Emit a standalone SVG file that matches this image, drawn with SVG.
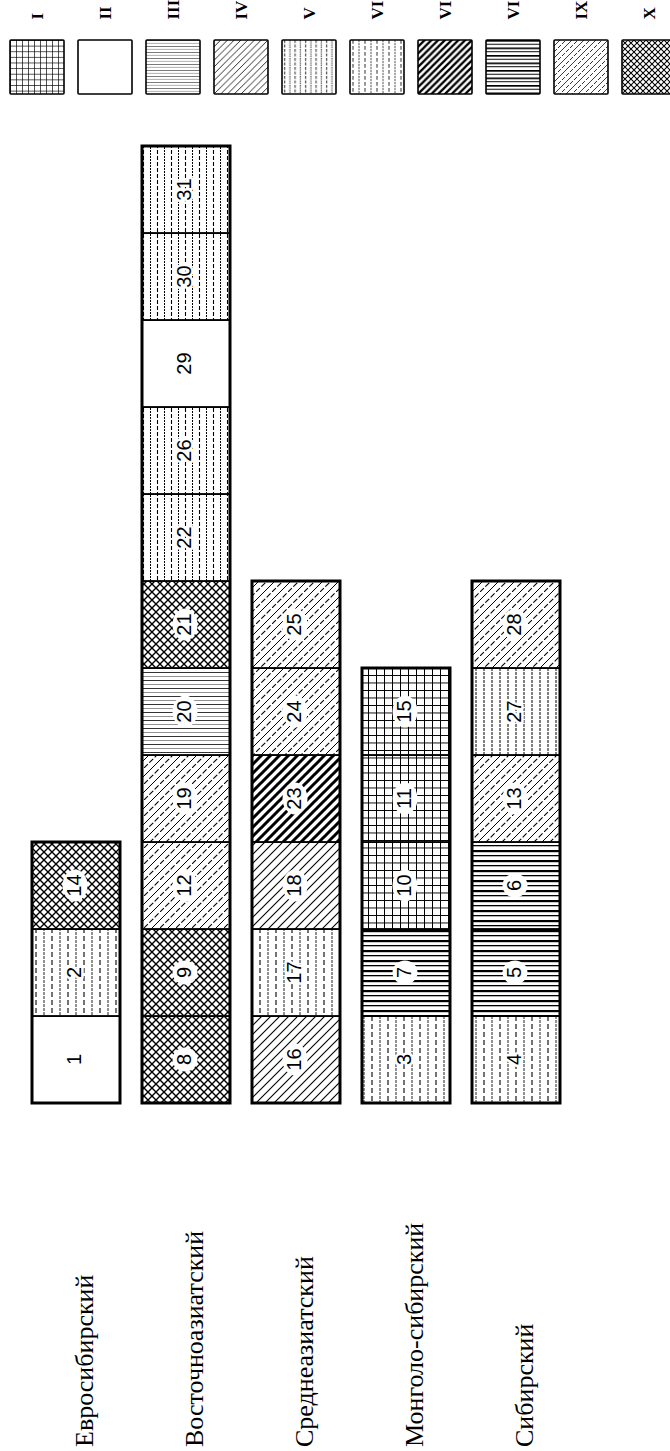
<svg xmlns="http://www.w3.org/2000/svg" width="670" height="1451" viewBox="0 0 670 1451">
<style>
.cell{stroke:#000;stroke-width:1.8}
.col{fill:none;stroke:#000;stroke-width:3}
.lg{stroke:#000;stroke-width:1.6;fill:none}
.num{font-family:"Liberation Sans",Arial,sans-serif;font-size:20px;text-anchor:middle;fill:#000}
.h{paint-order:stroke;stroke:#fff;stroke-width:5;stroke-linejoin:round}
.halo{fill:#fff}
.row{font-family:"Liberation Serif","Times New Roman",serif;font-size:26px;fill:#000}
.lt{font-family:"Liberation Serif","Times New Roman",serif;font-size:17px;font-weight:bold;fill:#000}
</style>
<defs>
<pattern id="pI" width="8" height="7.5" patternUnits="userSpaceOnUse"><rect width="8" height="7.5" fill="#fff"/><path d="M0.5 0V7.5M0 0.5H8" stroke="#000" stroke-width="1"/></pattern>
<pattern id="pIII" width="8" height="8" patternUnits="userSpaceOnUse"><rect width="8" height="8" fill="#fff"/><path d="M0 0.5H8" stroke="#000" stroke-width="0.8"/><path d="M0 4.5H8" stroke="#777" stroke-width="0.8"/></pattern>
<pattern id="pIV" width="9" height="9" patternUnits="userSpaceOnUse"><rect width="9" height="9" fill="#fff"/><path d="M0 9L9 0M-1 1L1 -1M8 10L10 8" stroke="#000" stroke-width="1.1"/></pattern>
<pattern id="pV" width="14" height="6" patternUnits="userSpaceOnUse"><rect width="14" height="6" fill="#fff"/><path d="M3.5 0V6" stroke="#000" stroke-width="1.1" stroke-dasharray="4 2"/><path d="M10.5 0V6" stroke="#000" stroke-width="1" stroke-dasharray="2 1"/></pattern>
<pattern id="pVI" width="16" height="8" patternUnits="userSpaceOnUse"><rect width="16" height="8" fill="#fff"/><path d="M4 0V8" stroke="#000" stroke-width="1.1" stroke-dasharray="5 3"/><path d="M12 0V8" stroke="#222" stroke-width="1" stroke-dasharray="3 1"/></pattern>
<pattern id="pW" width="8" height="8" patternUnits="userSpaceOnUse"><rect width="8" height="8" fill="#fff"/><path d="M4 0V8" stroke="#000" stroke-width="1" stroke-dasharray="3 1"/></pattern>
<pattern id="pVII" width="9" height="9" patternUnits="userSpaceOnUse"><rect width="9" height="9" fill="#fff"/><path d="M0 9L9 0M-2 2L2 -2M7 11L11 7" stroke="#000" stroke-width="3"/></pattern>
<pattern id="pVIII" width="10" height="10" patternUnits="userSpaceOnUse"><rect width="10" height="10" fill="#fff"/><rect y="0" width="10" height="2.2" fill="#000"/><rect y="5" width="10" height="1.3" fill="#000"/></pattern>
<pattern id="pIX" width="16" height="16" patternUnits="userSpaceOnUse"><rect width="16" height="16" fill="#fff"/><path d="M0 16L16 0" stroke="#000" stroke-width="1.1" stroke-dasharray="5.5 2.04"/><path d="M0 8L8 0M8 16L16 8M-1 1L1 -1M15 17L17 15" stroke="#000" stroke-width="1"/></pattern>
<pattern id="pX" width="8" height="8" patternUnits="userSpaceOnUse"><rect width="8" height="8" fill="#fff"/><path d="M0 0L8 8M8 0L0 8" stroke="#000" stroke-width="1.4"/></pattern>
</defs>
<rect width="670" height="1451" fill="#fff"/>

<g id="legend">
<g id="legend-I"><g transform="translate(10 40) scale(0.75)"><rect width="72" height="72" fill="url(#pI)"/></g><rect class="lg" x="10" y="40" width="54" height="54" rx="1"/><text class="lt" transform="translate(43 19.5) rotate(-90)">I</text></g>
<g id="legend-II"><rect class="lg" x="78" y="40" width="54" height="54" rx="1" fill="#fff"/><text class="lt" transform="translate(111 19.5) rotate(-90)">II</text></g>
<g id="legend-III"><g transform="translate(146 40) scale(0.75)"><rect width="72" height="72" fill="url(#pIII)"/></g><rect class="lg" x="146" y="40" width="54" height="54" rx="1"/><text class="lt" transform="translate(179 19.5) rotate(-90)">III</text></g>
<g id="legend-IV"><g transform="translate(214 40) scale(0.75)"><rect width="72" height="72" fill="url(#pIV)"/></g><rect class="lg" x="214" y="40" width="54" height="54" rx="1"/><text class="lt" transform="translate(247 19.5) rotate(-90)">IV</text></g>
<g id="legend-V"><g transform="translate(282 40) scale(0.75)"><rect width="72" height="72" fill="url(#pV)"/></g><rect class="lg" x="282" y="40" width="54" height="54" rx="1"/><text class="lt" transform="translate(315 19.5) rotate(-90)">V</text></g>
<g id="legend-VI"><g transform="translate(350 40) scale(0.75)"><rect width="72" height="72" fill="url(#pVI)"/></g><rect class="lg" x="350" y="40" width="54" height="54" rx="1"/><text class="lt" transform="translate(383 19.5) rotate(-90)">VI</text></g>
<g id="legend-VII"><g transform="translate(418 40) scale(0.75)"><rect width="72" height="72" fill="url(#pVII)"/></g><rect class="lg" x="418" y="40" width="54" height="54" rx="1"/><text class="lt" transform="translate(451 19.5) rotate(-90)">VII</text></g>
<g id="legend-VIII"><g transform="translate(486 40) scale(0.75)"><rect width="72" height="72" fill="url(#pVIII)"/></g><rect class="lg" x="486" y="40" width="54" height="54" rx="1"/><text class="lt" transform="translate(519 19.5) rotate(-90)">VIII</text></g>
<g id="legend-IX"><g transform="translate(554 40) scale(0.75)"><rect width="72" height="72" fill="url(#pIX)"/></g><rect class="lg" x="554" y="40" width="54" height="54" rx="1"/><text class="lt" transform="translate(587 19.5) rotate(-90)">IX</text></g>
<g id="legend-X"><g transform="translate(622 40) scale(0.75)"><rect width="72" height="72" fill="url(#pX)"/></g><rect class="lg" x="622" y="40" width="54" height="54" rx="1"/><text class="lt" transform="translate(655 19.5) rotate(-90)">X</text></g>
</g>

<g id="labels">
<text class="row" transform="translate(93 1447) rotate(-90)">Евросибирский</text>
<text class="row" transform="translate(203 1447) rotate(-90)">Восточноазиатский</text>
<text class="row" transform="translate(313 1447) rotate(-90)">Среднеазиатский</text>
<text class="row" transform="translate(423 1447) rotate(-90)">Монголо-сибирский</text>
<text class="row" transform="translate(533 1447) rotate(-90)">Сибирский</text>
</g>

<!-- Column 1: Евросибирский -->
<g id="c1"><rect class="cell" x="32" y="1016" width="88" height="87" fill="#fff"/><text class="num" transform="translate(74 1059.5) rotate(-90)" y="7">1</text></g>
<g id="c2"><rect class="cell" x="32" y="929" width="88" height="87" fill="url(#pVI)"/><text class="num h" transform="translate(74 972.5) rotate(-90)" y="7">2</text></g>
<g id="c14"><rect class="cell" x="32" y="842" width="88" height="87" fill="url(#pX)"/><ellipse class="halo" cx="75" cy="885.5" rx="12.5" ry="16"/><text class="num" transform="translate(74 885.5) rotate(-90)" y="7">14</text></g>

<!-- Column 2: Восточноазиатский -->
<g id="c8"><rect class="cell" x="142" y="1016" width="88" height="87" fill="url(#pX)"/><ellipse class="halo" cx="185" cy="1059.5" rx="12.5" ry="12"/><text class="num" transform="translate(184 1059.5) rotate(-90)" y="7">8</text></g>
<g id="c9"><rect class="cell" x="142" y="929" width="88" height="87" fill="url(#pX)"/><ellipse class="halo" cx="185" cy="972.5" rx="12.5" ry="12"/><text class="num" transform="translate(184 972.5) rotate(-90)" y="7">9</text></g>
<g id="c12"><rect class="cell" x="142" y="842" width="88" height="87" fill="url(#pIX)"/><ellipse class="halo" cx="185" cy="885.5" rx="12.5" ry="16"/><text class="num" transform="translate(184 885.5) rotate(-90)" y="7">12</text></g>
<g id="c19"><rect class="cell" x="142" y="755" width="88" height="87" fill="url(#pIX)"/><ellipse class="halo" cx="185" cy="798.5" rx="12.5" ry="16"/><text class="num" transform="translate(184 798.5) rotate(-90)" y="7">19</text></g>
<g id="c20"><rect class="cell" x="142" y="668" width="88" height="87" fill="url(#pIII)"/><ellipse class="halo" cx="185" cy="711.5" rx="12.5" ry="16"/><text class="num" transform="translate(184 711.5) rotate(-90)" y="7">20</text></g>
<g id="c21"><rect class="cell" x="142" y="581" width="88" height="87" fill="url(#pX)"/><ellipse class="halo" cx="185" cy="624.5" rx="12.5" ry="16"/><text class="num" transform="translate(184 624.5) rotate(-90)" y="7">21</text></g>
<g id="c22"><rect class="cell" x="142" y="494" width="88" height="87" fill="url(#pV)"/><text class="num h" transform="translate(184 537.5) rotate(-90)" y="7">22</text></g>
<g id="c26"><rect class="cell" x="142" y="407" width="88" height="87" fill="url(#pV)"/><text class="num h" transform="translate(184 450.5) rotate(-90)" y="7">26</text></g>
<g id="c29"><rect class="cell" x="142" y="320" width="88" height="87" fill="#fff"/><text class="num" transform="translate(184 363.5) rotate(-90)" y="7">29</text></g>
<g id="c30"><rect class="cell" x="142" y="233" width="88" height="87" fill="url(#pV)"/><text class="num h" transform="translate(184 276.5) rotate(-90)" y="7">30</text></g>
<g id="c31"><rect class="cell" x="142" y="146" width="88" height="87" fill="url(#pV)"/><text class="num h" transform="translate(184 189.5) rotate(-90)" y="7">31</text></g>

<!-- Column 3: Среднеазиатский -->
<g id="c16"><rect class="cell" x="252" y="1016" width="88" height="87" fill="url(#pIV)"/><ellipse class="halo" cx="295" cy="1059.5" rx="12.5" ry="16"/><text class="num" transform="translate(294 1059.5) rotate(-90)" y="7">16</text></g>
<g id="c17"><rect class="cell" x="252" y="929" width="88" height="87" fill="url(#pVI)"/><text class="num h" transform="translate(294 972.5) rotate(-90)" y="7">17</text></g>
<g id="c18"><rect class="cell" x="252" y="842" width="88" height="87" fill="url(#pIV)"/><ellipse class="halo" cx="295" cy="885.5" rx="12.5" ry="16"/><text class="num" transform="translate(294 885.5) rotate(-90)" y="7">18</text></g>
<g id="c23"><rect class="cell" x="252" y="755" width="88" height="87" fill="url(#pVII)"/><ellipse class="halo" cx="295" cy="798.5" rx="12.5" ry="16"/><text class="num" transform="translate(294 798.5) rotate(-90)" y="7">23</text></g>
<g id="c24"><rect class="cell" x="252" y="668" width="88" height="87" fill="url(#pIX)"/><ellipse class="halo" cx="295" cy="711.5" rx="12.5" ry="16"/><text class="num" transform="translate(294 711.5) rotate(-90)" y="7">24</text></g>
<g id="c25"><rect class="cell" x="252" y="581" width="88" height="87" fill="url(#pIX)"/><ellipse class="halo" cx="295" cy="624.5" rx="12.5" ry="16"/><text class="num" transform="translate(294 624.5) rotate(-90)" y="7">25</text></g>

<!-- Column 4: Монголо-сибирский -->
<g id="c3"><rect class="cell" x="362" y="1016" width="88" height="87" fill="url(#pVI)"/><text class="num h" transform="translate(404 1059.5) rotate(-90)" y="7">3</text></g>
<g id="c7"><rect class="cell" x="362" y="929" width="88" height="87" fill="url(#pVIII)"/><ellipse class="halo" cx="405" cy="972.5" rx="12.5" ry="12"/><text class="num" transform="translate(404 972.5) rotate(-90)" y="7">7</text></g>
<g id="c10"><rect class="cell" x="362" y="842" width="88" height="87" fill="url(#pI)"/><ellipse class="halo" cx="405" cy="885.5" rx="12.5" ry="16"/><text class="num" transform="translate(404 885.5) rotate(-90)" y="7">10</text></g>
<g id="c11"><rect class="cell" x="362" y="755" width="88" height="87" fill="url(#pI)"/><ellipse class="halo" cx="405" cy="798.5" rx="12.5" ry="16"/><text class="num" transform="translate(404 798.5) rotate(-90)" y="7">11</text></g>
<g id="c15"><rect class="cell" x="362" y="668" width="88" height="87" fill="url(#pI)"/><ellipse class="halo" cx="405" cy="711.5" rx="12.5" ry="16"/><text class="num" transform="translate(404 711.5) rotate(-90)" y="7">15</text></g>

<!-- Column 5: Сибирский -->
<g id="c4"><rect class="cell" x="472" y="1016" width="88" height="87" fill="url(#pVI)"/><text class="num h" transform="translate(514 1059.5) rotate(-90)" y="7">4</text></g>
<g id="c5"><rect class="cell" x="472" y="929" width="88" height="87" fill="url(#pVIII)"/><ellipse class="halo" cx="515" cy="972.5" rx="12.5" ry="12"/><text class="num" transform="translate(514 972.5) rotate(-90)" y="7">5</text></g>
<g id="c6"><rect class="cell" x="472" y="842" width="88" height="87" fill="url(#pVIII)"/><ellipse class="halo" cx="515" cy="885.5" rx="12.5" ry="12"/><text class="num" transform="translate(514 885.5) rotate(-90)" y="7">6</text></g>
<g id="c13"><rect class="cell" x="472" y="755" width="88" height="87" fill="url(#pIX)"/><ellipse class="halo" cx="515" cy="798.5" rx="12.5" ry="16"/><text class="num" transform="translate(514 798.5) rotate(-90)" y="7">13</text></g>
<g id="c27"><rect class="cell" x="472" y="668" width="88" height="87" fill="url(#pW)"/><text class="num h" transform="translate(514 711.5) rotate(-90)" y="7">27</text></g>
<g id="c28"><rect class="cell" x="472" y="581" width="88" height="87" fill="url(#pIX)"/><ellipse class="halo" cx="515" cy="624.5" rx="12.5" ry="16"/><text class="num" transform="translate(514 624.5) rotate(-90)" y="7">28</text></g>

<g id="connectors">
<rect class="col" x="32" y="842" width="88" height="261"/>
<rect class="col" x="142" y="146" width="88" height="957"/>
<rect class="col" x="252" y="581" width="88" height="522"/>
<rect class="col" x="362" y="668" width="88" height="435"/>
<rect class="col" x="472" y="581" width="88" height="522"/>
</g>
</svg>
